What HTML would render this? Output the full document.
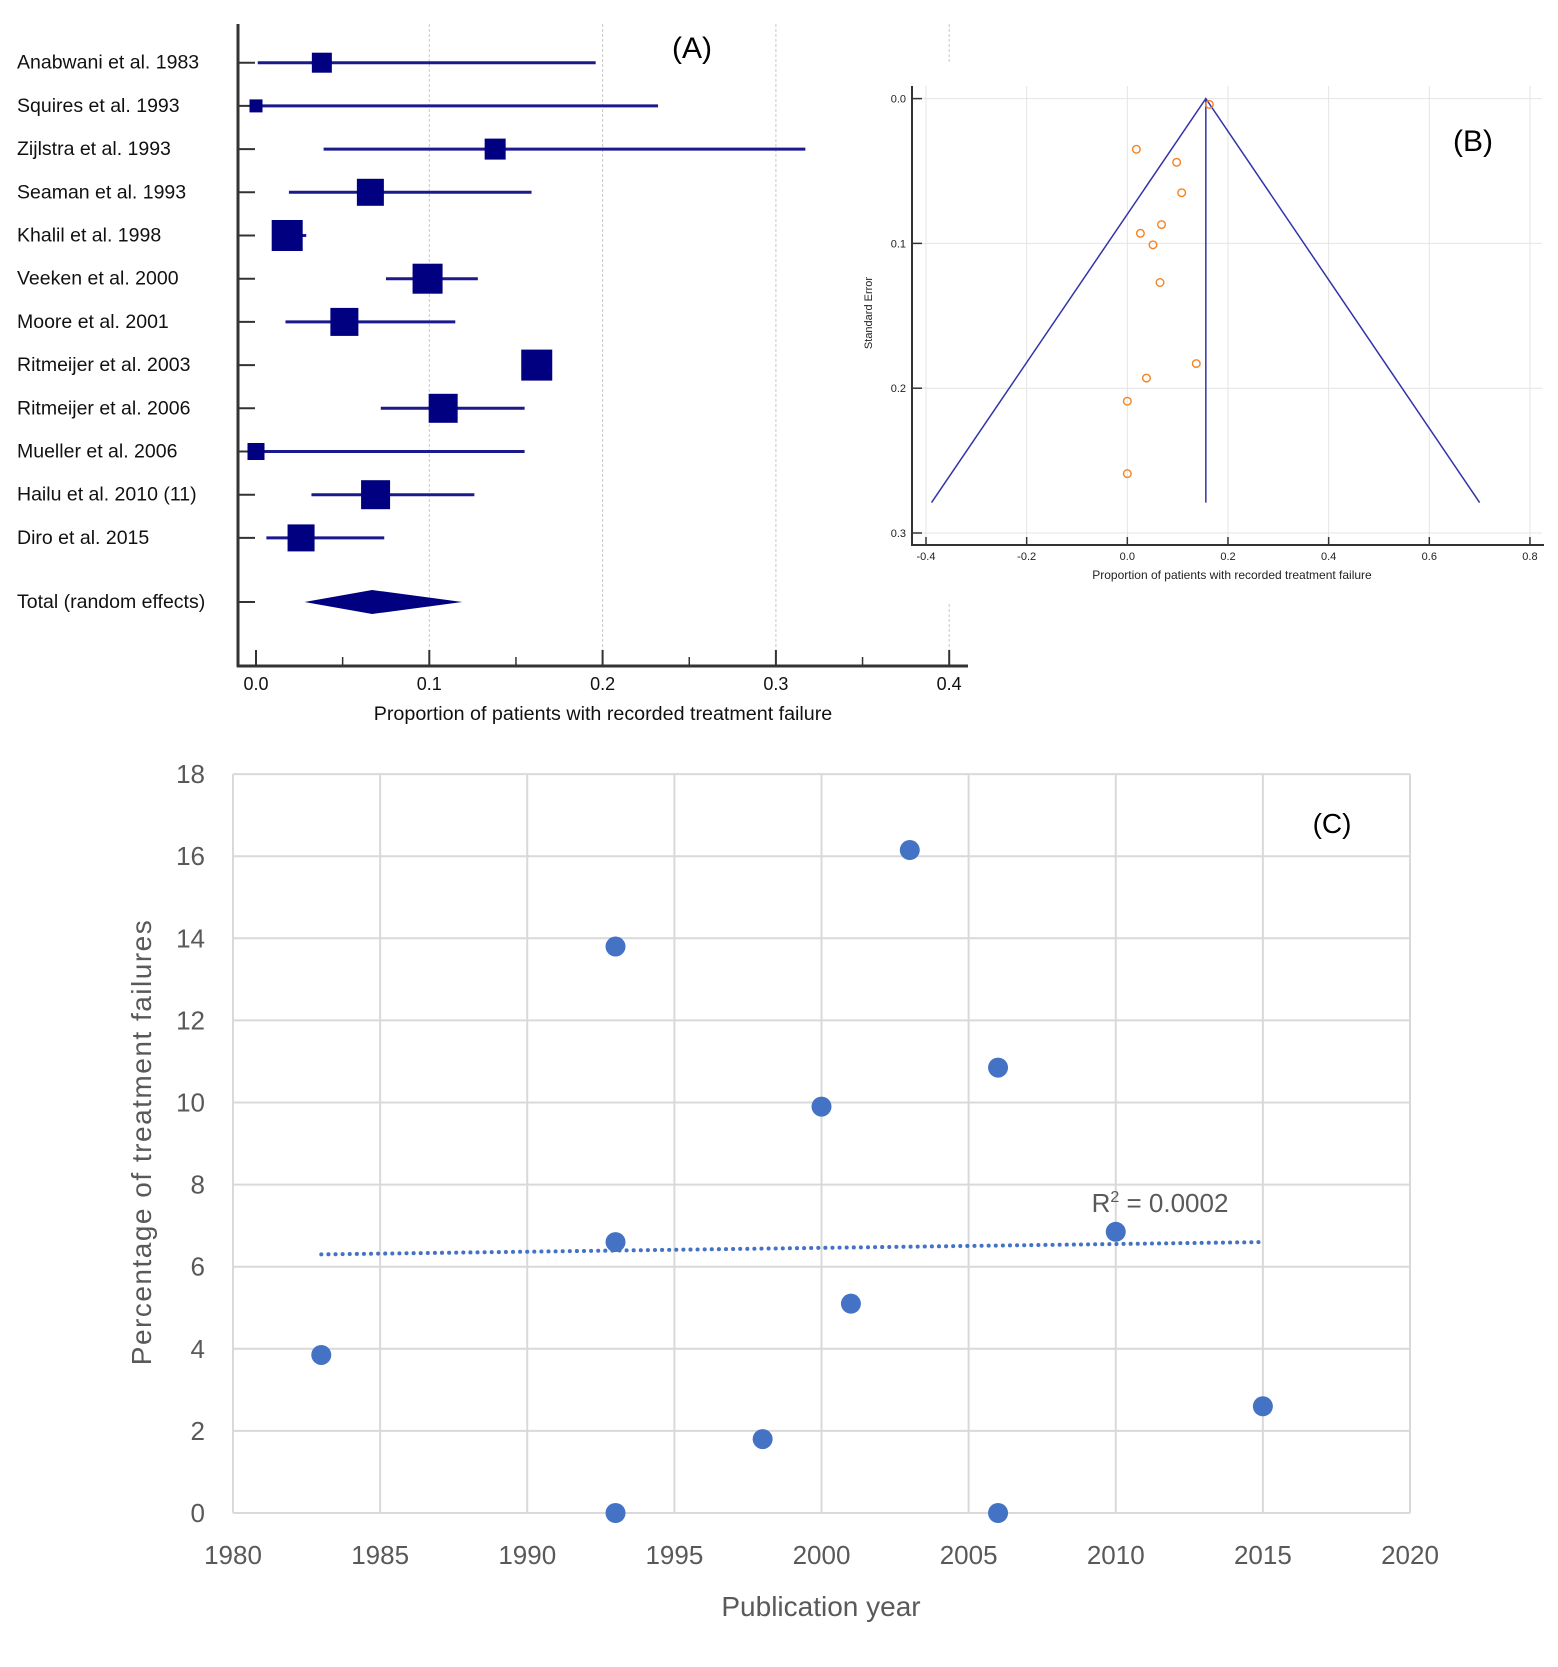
<!DOCTYPE html>
<html><head><meta charset="utf-8"><style>
html,body{margin:0;padding:0;background:#fff;}
svg{display:block;}
</style></head><body>
<svg id="fig" width="1558" height="1667" viewBox="0 0 1558 1667" xmlns="http://www.w3.org/2000/svg">
<g id="panelA"></g>
<g id="panelB"></g>
<g id="panelC"></g>
</svg>
<script>
// ---------- Panel A data ----------
const studies = ["Anabwani et al. 1983","Squires et al. 1993","Zijlstra et al. 1993","Seaman et al. 1993","Khalil et al. 1998","Veeken et al. 2000","Moore et al. 2001","Ritmeijer et al. 2003","Ritmeijer et al. 2006","Mueller et al. 2006","Hailu et al. 2010 (11)","Diro et al. 2015"];
const estimates = [0.038,0.0,0.138,0.066,0.018,0.099,0.051,0.162,0.108,0.0,0.069,0.026];
const ciLow = [0.001,0.0,0.039,0.019,0.010,0.075,0.017,0.155,0.072,0.0,0.032,0.006];
const ciHigh = [0.196,0.232,0.317,0.159,0.029,0.128,0.115,0.170,0.155,0.155,0.126,0.074];
const weights = [20,13,21,27,31,30,28,31,29,17,29,27];
const pooled = [0.028,0.067,0.119];
const aTicks = [0.0,0.1,0.2,0.3,0.4];
// ---------- Panel B data ----------
const funnelX = [0.163,0.018,0.098,0.108,0.068,0.026,0.051,0.065,0.137,0.038,0.0,0.0];
const funnelSE = [0.004,0.035,0.044,0.065,0.087,0.093,0.101,0.127,0.183,0.193,0.209,0.259];
const funnelCenter = 0.156;
const funnelBaseSE = 0.279;
const funnelBase = [-0.389,0.700];
const bXTicks = [-0.4,-0.2,0.0,0.2,0.4,0.6,0.8];
const bYTicks = [0.0,0.1,0.2,0.3];
// ---------- Panel C data ----------
const years = [1983,1993,1993,1993,1998,2000,2001,2003,2006,2006,2010,2015];
const pct = [3.85,13.8,6.6,0,1.8,9.9,5.1,16.15,10.85,0,6.85,2.6];
const trendYears = [1983,2015];
const trendVals = [6.3,6.6];
const cXTicks = [1980,1985,1990,1995,2000,2005,2010,2015,2020];
const cYTicks = [0,2,4,6,8,10,12,14,16,18];

const NS="http://www.w3.org/2000/svg";
function mk(parent,tag,attrs,text){const e=document.createElementNS(NS,tag);for(const k in attrs)e.setAttribute(k,attrs[k]);if(text!==undefined)e.textContent=text;parent.appendChild(e);return e;}

// ===== Panel A =====
(function(){
const g=document.getElementById('panelA');
const xA=v=>256+v*1733;
const rowY=i=>62.7+i*43.2;
const F='"Liberation Sans",Arial,sans-serif';
aTicks.forEach((t,i)=>{
  if(t>0){let l=mk(g,'line',{x1:xA(t),y1:24,x2:xA(t),y2:666,stroke:'#c8c8c8','stroke-width':1,'stroke-dasharray':'3,2'});
  
  }
  let tk=mk(g,'line',{x1:xA(t),y1:650,x2:xA(t),y2:666,stroke:'#333','stroke-width':2});
  
  
  let tx=mk(g,'text',{x:xA(t),y:690,'text-anchor':'middle','font-family':F,'font-size':18,fill:'#111'},t.toFixed(1));
  
  
});
for(let k=0;k<8;k++){const v=0.05+k*0.1; if(v<0.4){let m=mk(g,'line',{x1:xA(v),y1:657,x2:xA(v),y2:666,stroke:'#333','stroke-width':1.5});}}
let ax=mk(g,'line',{x1:238,y1:24,x2:238,y2:667,stroke:'#333','stroke-width':3});

let bx=mk(g,'line',{x1:237,y1:666,x2:968,y2:666,stroke:'#333','stroke-width':3});

studies.forEach((s,i)=>{
  const y=rowY(i);
  let t=mk(g,'line',{x1:238,y1:y,x2:255,y2:y,stroke:'#333','stroke-width':2});
  
  let lb=mk(g,'text',{x:17,y:y+6,'font-family':F,'font-size':19.5,fill:'#111'},s);
  
  let ci=mk(g,'line',{x1:xA(ciLow[i]),y1:y,x2:xA(ciHigh[i]),y2:y,stroke:'#1a1a8c','stroke-width':3});
  
  const w=weights[i];
  let r=mk(g,'rect',{x:xA(estimates[i])-w/2,y:y-w/2,width:w,height:w,fill:'#000080'});
  
});
const ty=602;
let tt=mk(g,'line',{x1:238,y1:ty,x2:255,y2:ty,stroke:'#333','stroke-width':2});

let tl=mk(g,'text',{x:17,y:ty+6,'font-family':F,'font-size':19.5,fill:'#111'},'Total (random effects)');

let d=mk(g,'polygon',{points:`${xA(pooled[0])},${ty} ${xA(pooled[1])},${ty-12} ${xA(pooled[2])},${ty} ${xA(pooled[1])},${ty+12}`,fill:'#000080'});

let xt=mk(g,'text',{x:603,y:720,'text-anchor':'middle','font-family':F,'font-size':19.7,fill:'#111'},'Proportion of patients with recorded treatment failure');

let pa=mk(g,'text',{x:692,y:58,'text-anchor':'middle','font-family':'"Liberation Sans",sans-serif','font-size':30,fill:'#000'},'(A)');

})();

// ===== Panel B =====
(function(){
const g=document.getElementById('panelB');
const F='"Liberation Sans",Arial,sans-serif';
const xB=v=>926+(v+0.4)*503.3;
const yB=v=>98.6+v*1448;
let bg=mk(g,'rect',{x:880,y:62,width:678,height:540,fill:'#fff'});

bXTicks.forEach(t=>{
  let l=mk(g,'line',{x1:xB(t),y1:86,x2:xB(t),y2:545,stroke:'#e4e4e4','stroke-width':1});
  
  let tk=mk(g,'line',{x1:xB(t),y1:537,x2:xB(t),y2:545,stroke:'#333','stroke-width':1.5});
  
  let tx=mk(g,'text',{x:xB(t),y:560,'text-anchor':'middle','font-family':F,'font-size':11,fill:'#222'},t.toFixed(1));
  
});
bYTicks.forEach(t=>{
  let l=mk(g,'line',{x1:912,y1:yB(t),x2:1542,y2:yB(t),stroke:'#e4e4e4','stroke-width':1});
  
  let tk=mk(g,'line',{x1:912,y1:yB(t),x2:922,y2:yB(t),stroke:'#333','stroke-width':1.5});
  
  let tx=mk(g,'text',{x:906,y:yB(t)+4,'text-anchor':'end','font-family':F,'font-size':11,fill:'#222'},t.toFixed(1));
  
});
let ay=mk(g,'line',{x1:912,y1:86,x2:912,y2:546,stroke:'#333','stroke-width':2});

let axx=mk(g,'line',{x1:911,y1:545,x2:1544,y2:545,stroke:'#333','stroke-width':2});

let f=mk(g,'polyline',{points:`${xB(funnelBase[0])},${yB(funnelBaseSE)} ${xB(funnelCenter)},${yB(0)} ${xB(funnelBase[1])},${yB(funnelBaseSE)}`,fill:'none',stroke:'#3333aa','stroke-width':1.5});

let c=mk(g,'line',{x1:xB(funnelCenter),y1:yB(0),x2:xB(funnelCenter),y2:yB(funnelBaseSE),stroke:'#3333aa','stroke-width':1.5});

funnelX.forEach((v,i)=>{
  let p=mk(g,'circle',{cx:xB(v),cy:yB(funnelSE[i]),r:3.8,fill:'none',stroke:'#f58220','stroke-width':1.4});
  
});
let sl=mk(g,'text',{x:0,y:0,'text-anchor':'middle','font-family':F,'font-size':11,fill:'#222',transform:'translate(872,313) rotate(-90)'},'Standard Error');

let xl=mk(g,'text',{x:1232,y:579,'text-anchor':'middle','font-family':F,'font-size':12,fill:'#222'},'Proportion of patients with recorded treatment failure');

let pb=mk(g,'text',{x:1473,y:151,'text-anchor':'middle','font-family':'"Liberation Sans",sans-serif','font-size':30,fill:'#000'},'(B)');

})();

// ===== Panel C =====
(function(){
const g=document.getElementById('panelC');
const F='"Liberation Sans",Arial,sans-serif';
const xC=v=>233+(v-1980)*29.425;
const yC=v=>1513-v*41.05;
cXTicks.forEach(t=>{
  let l=mk(g,'line',{x1:xC(t),y1:yC(18),x2:xC(t),y2:yC(0),stroke:'#d9d9d9','stroke-width':2});
  
  let tx=mk(g,'text',{x:xC(t),y:1564,'text-anchor':'middle','font-family':F,'font-size':26,fill:'#595959'},String(t));
  
});
cYTicks.forEach(t=>{
  let l=mk(g,'line',{x1:xC(1980),y1:yC(t),x2:xC(2020),y2:yC(t),stroke:'#d9d9d9','stroke-width':2});
  
  let tx=mk(g,'text',{x:205,y:yC(t)+9,'text-anchor':'end','font-family':F,'font-size':26,fill:'#595959'},String(t));
  
});
let tr=mk(g,'line',{x1:xC(trendYears[0]),y1:yC(trendVals[0]),x2:xC(trendYears[1]),y2:yC(trendVals[1]),stroke:'#4472c4','stroke-width':4,'stroke-dasharray':'0.1,7','stroke-linecap':'round'});

years.forEach((y,i)=>{
  let p=mk(g,'circle',{cx:xC(y),cy:yC(pct[i]),r:10,fill:'#4472c4'});
  
});
let r2=mk(g,'text',{x:1160,y:1212,'text-anchor':'middle','font-family':F,'font-size':26,fill:'#595959'});

r2.innerHTML='R<tspan font-size="16" dy="-10">2</tspan><tspan dy="10"> = 0.0002</tspan>';
let xt=mk(g,'text',{x:821,y:1616,'text-anchor':'middle','font-family':F,'font-size':28,fill:'#595959'},'Publication year');

let yt=mk(g,'text',{x:0,y:0,'text-anchor':'middle','font-family':F,'font-size':28,fill:'#595959','letter-spacing':'1.5',transform:'translate(151,1142) rotate(-90)'},'Percentage of treatment failures');

let pc=mk(g,'text',{x:1332,y:833,'text-anchor':'middle','font-family':'"Liberation Sans",sans-serif','font-size':28,fill:'#000'},'(C)');

})();
</script>
</body></html>
